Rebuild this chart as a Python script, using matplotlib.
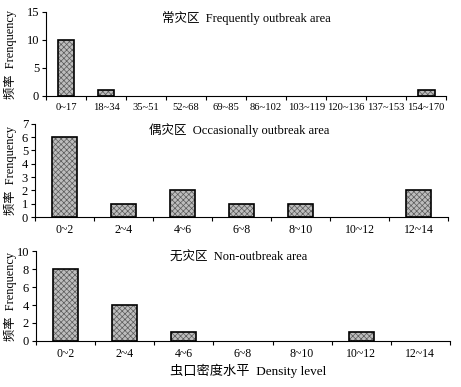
import matplotlib.pyplot as plt
import numpy as np

plt.rcParams['font.family'] = ['Liberation Serif', 'Noto Sans CJK SC']
plt.rcParams['hatch.linewidth'] = 0.5

# data
cats_freq = ['0~17', '18~34', '35~51', '52~68', '69~85', '86~102', '103~119',
             '120~136', '137~153', '154~170']
vals_freq = [10, 1, 0, 0, 0, 0, 0, 0, 0, 1]

cats_occ = ['0~2', '2~4', '4~6', '6~8', '8~10', '10~12', '12~14']
vals_occ = [6, 1, 2, 1, 1, 0, 2]

cats_non = ['0~2', '2~4', '4~6', '6~8', '8~10', '10~12', '12~14']
vals_non = [8, 4, 1, 0, 0, 1, 0]

fig = plt.figure(figsize=(4.61, 3.87), dpi=100)

panels = [
    ([0.0998, 0.752, 0.868, 0.217], cats_freq, vals_freq, 15, [0, 5, 10, 15],
     '常灾区  Frequently outbreak area', 0.50, 7.6),
    ([0.076, 0.439, 0.896, 0.241], cats_occ, vals_occ, 7, list(range(8)),
     '偶灾区  Occasionally outbreak area', 0.494, 8.5),
    ([0.078, 0.119, 0.898, 0.232], cats_non, vals_non, 10, [0, 2, 4, 6, 8, 10],
     '无灾区  Non-outbreak area', 0.49, 8.5),
]

for rect, cats, vals, ymax, yt, title, tx, xfs in panels:
    ax = fig.add_axes(rect)
    x = np.arange(len(cats))
    v = np.array(vals)
    keep = v > 0
    ax.bar(x[keep], v[keep], width=0.42, color='#bdbdbd', edgecolor='#5a5a5a',
           hatch='xxxxxx', linewidth=0, zorder=2)
    ax.bar(x[keep], v[keep], width=0.42, fill=False, edgecolor='black',
           linewidth=1.2, zorder=3)
    ax.set_xlim(-0.5, len(cats) - 0.5)
    ax.set_ylim(0, ymax)
    ax.set_yticks(yt)
    ax.set_xticks(x)
    ax.set_xticklabels(cats, fontsize=xfs)
    ax.set_xticks(np.arange(len(cats) + 1) - 0.5, minor=True)
    ax.tick_params(axis='x', which='major', length=0, pad=5)
    ax.tick_params(axis='x', which='minor', length=3, width=0.8, direction='out')
    ax.tick_params(axis='y', length=3, width=0.8, labelsize=9, pad=2)
    for s in ['top', 'right']:
        ax.spines[s].set_visible(False)
    for s in ['left', 'bottom']:
        ax.spines[s].set_linewidth(0.8)
    ax.text(tx, 0.93, title, transform=ax.transAxes, ha='center', va='center',
            fontsize=9)

fig.text(0.022, 0.86, '频率  Frenquency', rotation=90, ha='center', va='center', fontsize=8.8)
fig.text(0.022, 0.56, '频率  Frenquency', rotation=90, ha='center', va='center', fontsize=8.8)
fig.text(0.022, 0.235, '频率  Frenquency', rotation=90, ha='center', va='center', fontsize=8.8)
fig.text(0.538, 0.041, '虫口密度水平  Density level', ha='center', va='center', fontsize=9.5)

fig.savefig('out.png', dpi=100)
